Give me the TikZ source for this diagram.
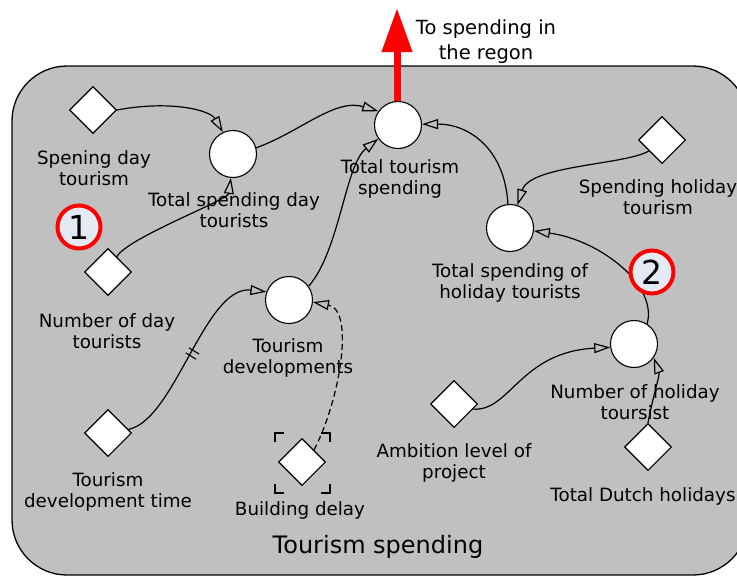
\documentclass[tikz,border=0pt]{standalone}
\usepackage{fontspec}
\setmainfont{DejaVu Sans}
\usetikzlibrary{shapes.geometric,arrows.meta,decorations.markings}
\definecolor{bggrey}{RGB}{192,192,192}
\definecolor{numfill}{RGB}{228,234,244}
\begin{document}
\begin{tikzpicture}[x=1pt,y=-1pt,
  auxv/.style={circle, draw, fill=white, minimum size=47pt, inner sep=0pt, line width=1.1pt},
  constv/.style={diamond, draw, fill=white, minimum width=47pt, minimum height=47pt, inner sep=0pt, line width=1.1pt},
  lbl/.style={align=center, font=\fontsize{18.3}{21}\selectfont, inner sep=0pt},
  link/.style={line width=1.2pt, -{Triangle[open,length=16pt,width=10pt]}},
  numc/.style={circle, draw=red, line width=4pt, fill=numfill, minimum size=43pt, inner sep=0pt, font=\fontsize{33}{33}\selectfont},
  brk/.style={line width=1.1pt},
  delaymarks/.style={decoration={markings, mark=at position #1 with {\draw[-, solid, line width=1.1pt] (-3pt,-6pt) -- (-3pt,6pt); \draw[-, solid, line width=1.1pt] (3pt,-6pt) -- (3pt,6pt);}}, postaction={decorate}}
]
\useasboundingbox (0,0) rectangle (737,576);
\clip (0,0) rectangle (737,576);
% module background
\draw[fill=bggrey, line width=1.3pt, rounded corners=55pt] (12,66) rectangle (748,575);

% variables
\node[auxv] (C1) at (233,154) {};
\node[auxv] (C2) at (398,125) {};
\node[auxv] (C3) at (510,228) {};
\node[auxv] (C4) at (289,300) {};
\node[auxv] (C5) at (634,344) {};

\node[constv] (D1) at (93,110) {};
\node[constv] (D2) at (108,272) {};
\node[constv] (D3) at (662,140) {};
\node[constv] (D4) at (108,433) {};
\node[constv] (D5) at (302,462) {};
\node[constv] (D6) at (454,404) {};
\node[constv] (D7) at (648,447) {};

% labels
\node[lbl] (Lsdt) at (94,168) {Spening day\\tourism};
\node[lbl] (Ltsd) at (234,210) {Total spending day\\tourists};
\node[lbl] (Ltts) at (400,179) {Total tourism\\spending};
\node[lbl] (Lsht) at (658,197) {Spending holiday\\tourism};
\node[lbl] (Ltsh) at (510,283) {Total spending of\\holiday tourists};
\node[lbl] (Lndt) at (107,331) {Number of day\\tourists};
\node[lbl] (Ltd) at (288,358) {Tourism\\developments};
\node[lbl] (Ltdt) at (108,492) {Tourism\\development time};
\node[lbl] (Lbd) at (300,510) {Building delay};
\node[lbl] (Lnht) at (635,402) {Number of holiday\\toursist};
\node[lbl] (Lal) at (454,463) {Ambition level of\\project};
\node[lbl] (Ltdh) at (643,496) {Total Dutch holidays};
\node[inner sep=0pt, font=\fontsize{24}{28}\selectfont] (title) at (378,547) {Tourism spending};
\node[lbl, font=\fontsize{19.5}{25}\selectfont] (Lto) at (486,42) {To spending in\\the regon};

% brackets round Building delay
\draw[brk] ([shift={(-27,-20)}]D5.center) -- ++(0,-9) -- ++(9,0);
\draw[brk] ([shift={(28,-20)}]D5.center) -- ++(0,-9) -- ++(-9,0);
\draw[brk] ([shift={(-27,22)}]D5.center) -- ++(0,9) -- ++(9,0);
\draw[brk] ([shift={(28,22)}]D5.center) -- ++(0,9) -- ++(-9,0);

% connectors
\draw[link] (D1.east) .. controls (170,100) and (210,110) .. (C1.115);
\draw[link] (D2.60) .. controls (127,238) and (228,200) .. (C1.265);
\draw[link] (C1.15) .. controls (300,132) and (335,98) .. (C2.145);
\draw[link] (C4.35) .. controls (340,250) and (345,165) .. (C2.215);
\draw[link] (C3.95) .. controls (505,150) and (470,124) .. (C2.2);
\draw[link] (D3.220) .. controls (625,165) and (530,165) .. (C3.72);
\draw[link] (C5.57) .. controls (658,285) and (600,240) .. (C3.-7);
\draw[link] (D6.-15) .. controls (510,412) and (520,352) .. (C5.188);
\draw[link] (D7.north) .. controls (652,400) and (660,375) .. (C5.-35);
\draw[link, delaymarks=0.5] (D4.10) .. controls (175,420) and (205,285) .. (C4.160);
\draw[link, dash pattern=on 6pt off 3.5pt] (D5.45) .. controls (340,400) and (355,310) .. (C4.-5);

% output flow
\coordinate (redtip) at (397,8);
\draw[red, line width=7pt, -{Triangle[length=44pt,width=29pt]}] ([xshift=-1pt]C2.north) -- (redtip);

% numbered markers
\node[numc] (N1) at (79,227) {1};
\node[numc] (N2) at (652,272) {2};
\end{tikzpicture}
\end{document}
